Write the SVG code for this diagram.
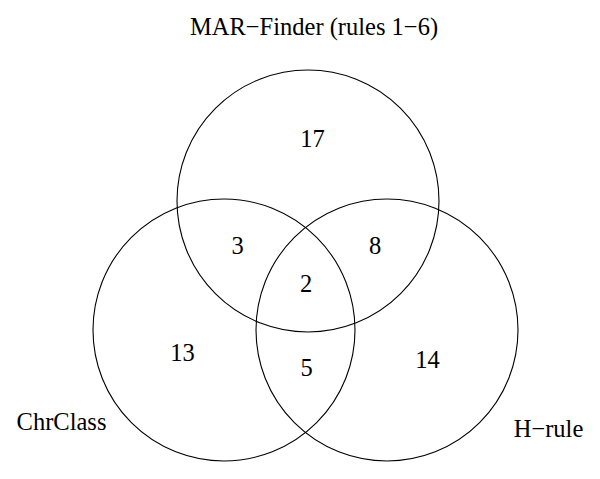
<svg xmlns="http://www.w3.org/2000/svg" width="600" height="479" viewBox="0 0 600 479">
<style>
.c{fill:none;stroke:#000;stroke-width:1.1}
.t{font-family:"Liberation Serif","Times New Roman",serif;font-size:24.5px;fill:#000;text-anchor:middle}
</style>
<rect width="600" height="479" fill="#fff"/>
<g id="mar-finder">
<circle class="c" cx="308" cy="201" r="131"/>
<text class="t" x="314" y="35">MAR−Finder (rules 1−6)</text>
</g>
<g id="chrclass">
<circle class="c" cx="224" cy="330" r="131"/>
<text class="t" x="61.5" y="430">ChrClass</text>
</g>
<g id="h-rule">
<circle class="c" cx="387" cy="330" r="131"/>
<text class="t" x="548.5" y="437">H−rule</text>
</g>
<g id="counts">
<text class="t" x="312.5" y="147">17</text>
<text class="t" x="237.5" y="254">3</text>
<text class="t" x="375" y="254">8</text>
<text class="t" x="306" y="292">2</text>
<text class="t" x="182.5" y="361">13</text>
<text class="t" x="306.5" y="376">5</text>
<text class="t" x="427.5" y="368">14</text>
</g>
<g id="connectors"></g>
</svg>
